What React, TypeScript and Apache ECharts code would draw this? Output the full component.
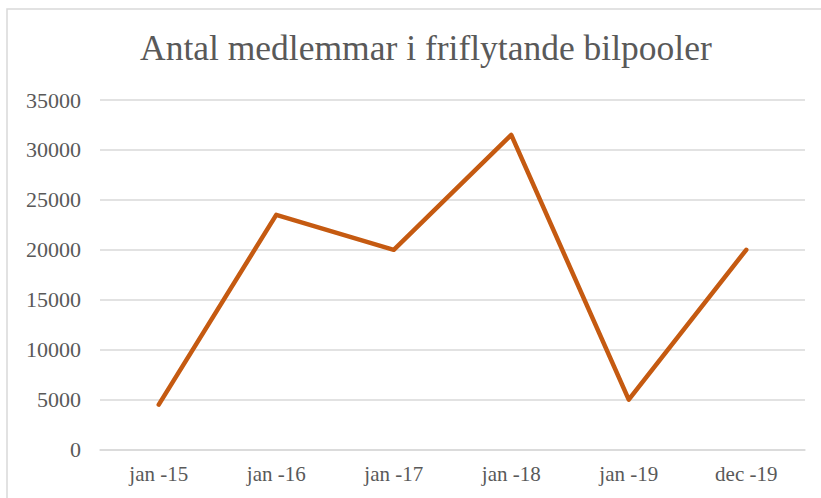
import React, { useEffect, useRef } from "react";
import * as echarts from "echarts";

const title = "Antal medlemmar i friflytande bilpooler";
const categories = ["jan -15", "jan -16", "jan -17", "jan -18", "jan -19", "dec -19"];
const members = [4500, 23500, 20000, 31500, 5000, 20000];
const yMin = 0;
const yMax = 35000;
const yInterval = 5000;

export default function App() {
  const ref = useRef<HTMLDivElement>(null);
  useEffect(() => {
    if (!ref.current) return;
    const chart = echarts.init(ref.current, null, { renderer: "svg" });
    const font = "'Liberation Serif', 'Times New Roman', serif";
    chart.setOption({
      animation: false,
      backgroundColor: "#ffffff",
      title: {
        text: title,
        left: 140,
        top: 30,
        padding: 0,
        textStyle: { fontFamily: font, fontSize: 35.5, fontWeight: "normal", color: "#595959" },
      },
      graphic: [
        {
          type: "rect",
          shape: { x: 7, y: 9, width: 900, height: 600 },
          style: { fill: "none", stroke: "#d9d9d9", lineWidth: 1.5 },
          silent: true,
        },
      ],
      grid: { left: 100, right: 16, top: 100, bottom: 48.5, containLabel: false },
      xAxis: {
        type: "category",
        data: categories,
        boundaryGap: true,
        axisLine: { show: true, lineStyle: { color: "#d9d9d9", width: 1.5 } },
        axisTick: { show: false },
        axisLabel: { fontFamily: font, fontSize: 21, color: "#595959", margin: 14 },
      },
      yAxis: {
        type: "value",
        min: yMin,
        max: yMax,
        interval: yInterval,
        axisLine: { show: false },
        axisTick: { show: false },
        splitLine: { lineStyle: { color: "#d9d9d9", width: 1.5 } },
        axisLabel: {
          fontFamily: font,
          fontSize: 22,
          color: "#595959",
          margin: 19,
          formatter: (v: number) => String(v),
        },
      },
      series: [
        {
          type: "line",
          data: members,
          symbol: "none",
          lineStyle: { color: "#c55a11", width: 4.5, cap: "round", join: "round" },
        },
      ],
    });
    return () => chart.dispose();
  }, []);
  return (
    <div
      ref={ref}
      style={{ position: "fixed", left: 0, top: 0, width: 821, height: 498 }}
    />
  );
}
